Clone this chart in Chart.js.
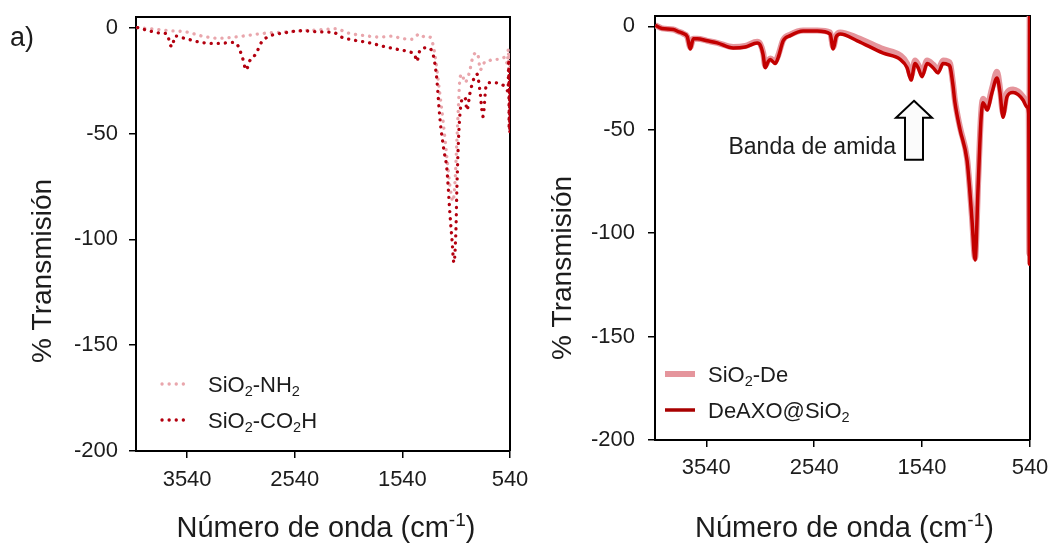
<!DOCTYPE html>
<html>
<head>
<meta charset="utf-8">
<script src="https://cdn.jsdelivr.net/npm/chart.js@4.4.0/dist/chart.umd.min.js"></script>
<style>
  html, body { margin: 0; padding: 0; background: #fff; }
  #wrap { position: relative; width: 1052px; height: 545px; overflow: hidden; }
  canvas { position: absolute; top: 0; }
  #left { left: 0; }
  #right { left: 540px; }
</style>
</head>
<body>
<div id="wrap">
  <canvas id="left" width="545" height="545"></canvas>
  <canvas id="right" width="512" height="545"></canvas>
</div>
<script>
// ---- Panel a) left: functionalised silica (dotted spectra) ----
const nh2Wn = [4000, 3900, 3800, 3700, 3555, 3400, 3250, 3100, 2950, 2785, 2600, 2470, 2300, 2160, 2050, 1860, 1750, 1630, 1560, 1450, 1380, 1330, 1285, 1240, 1200, 1160, 1125, 1095, 1070, 1050, 1035, 1020, 1005, 985, 960, 935, 912, 891, 860, 847, 830, 819, 800, 770, 753, 697, 632, 585, 565, 555, 550, 545, 542, 540];
const nh2T  = [0, -0.5, -1, -1.5, -2, -4, -5, -4.5, -3.5, -2.5, -2, -1.5, -1, -0.5, -2.5, -4, -4.5, -4, -5, -5.5, -3, -4.5, -4.5, -12, -28, -45, -62, -76, -82, -72, -55, -38, -24, -22, -26, -24, -20, -15, -12, -12, -15, -20, -19, -16, -16, -15, -15, -14, -17, -10, -28, -12, -20, -18];

const co2hWn = [4000, 3894, 3801, 3726, 3698, 3680, 3652, 3568, 3410, 3260, 3102, 3074, 3027, 2990, 2962, 2934, 2897, 2850, 2794, 2636, 2478, 2310, 2170, 2105, 1984, 1862, 1704, 1564, 1471, 1424, 1406, 1378, 1313, 1266, 1238, 1219, 1191, 1154, 1126, 1098, 1079, 1061, 1042, 1033, 1014, 986, 958, 940, 912, 875, 847, 819, 791, 763, 726, 632, 586, 558, 552, 548, 545, 542, 540];
const co2hT  = [0, -1.5, -2.5, -3, -8, -9, -4, -5, -7, -7.5, -7, -8, -14, -20, -16, -14.5, -12, -7, -4.5, -2.5, -1.5, -2, -2.5, -4.5, -6, -7, -9, -10.5, -11.5, -13, -16, -11, -9.5, -11, -17, -25, -43, -58, -67, -88, -100, -111, -95, -75, -48, -34, -33, -39, -31, -24, -22, -30, -42, -28, -26, -26.5, -28, -30, -15, -48, -20, -50, -30];

// ---- Right panel: decorated silica and loaded material (solid spectra) ----
const deWn = [4012, 3950, 3845, 3800, 3753, 3716, 3688, 3660, 3623, 3530, 3438, 3290, 3179, 3068, 3040, 3012, 2994, 2966, 2947, 2901, 2873, 2827, 2762, 2642, 2512, 2392, 2364, 2336, 2299, 2141, 1900, 1743, 1679, 1642, 1605, 1577, 1540, 1494, 1438, 1392, 1346, 1300, 1281, 1255, 1235, 1188, 1123, 1100, 1077, 1049, 1021, 994, 975, 960, 938, 892, 846, 818, 790, 753, 697, 650, 605, 568, 552, 546, 543, 541, 540];
const deT  = [0.5, -1, -1.5, -2.5, -3.5, -5, -10, -6, -6, -7, -8, -10, -9.5, -7.5, -8.5, -13, -19, -16.5, -15.5, -17, -14, -6.5, -4, -2, -2, -3, -10, -4.5, -3, -5.5, -11, -14, -18, -24, -16.5, -18.5, -22.5, -16.5, -18.5, -21, -16.5, -17, -18, -27, -36, -49, -64, -77, -93, -112, -76, -43, -35, -36, -38.5, -30, -22, -30, -42, -32, -30.5, -31.5, -34, -37, -40, -110, 5, -60, -48];

const axoWn = [4012, 3950, 3845, 3800, 3753, 3716, 3688, 3660, 3623, 3530, 3438, 3290, 3179, 3068, 3040, 3012, 2994, 2966, 2947, 2901, 2873, 2827, 2762, 2642, 2512, 2392, 2364, 2336, 2299, 2141, 1900, 1743, 1679, 1642, 1605, 1577, 1540, 1494, 1438, 1392, 1346, 1300, 1281, 1255, 1235, 1188, 1123, 1100, 1077, 1049, 1021, 994, 975, 960, 938, 892, 846, 818, 790, 753, 697, 650, 605, 568, 552, 546, 543, 541, 540];
const axoT  = [0.5, -1, -1.5, -2.5, -3.5, -5, -11, -6, -6, -7, -8, -10.5, -10, -8, -9, -14, -20, -17, -16, -18, -15, -7, -4.5, -2.3, -2.3, -3.7, -11, -5, -3.7, -7, -13, -16, -20, -26, -18, -20, -24.4, -18, -20, -22.5, -18, -18.5, -19.5, -28, -37, -50, -65, -78, -94, -113, -78, -45, -37, -38, -40.5, -32, -25, -32, -44, -34, -32, -33, -35.6, -39, -42, -115, 5, -60, -50];

const xTickValues = [3540, 2540, 1540, 540];
const yTickValues = [-200, -150, -100, -50, 0];

const leftLabels  = ['SiO_{2}-NH_{2}', 'SiO_{2}-CO_{2}H'];
const rightLabels = ['SiO_{2}-De', 'DeAXO@SiO_{2}'];
const xTitle = 'Número de onda (cm^{-1})';
const yTitle = '% Transmisión';
const panelTag = 'a)';
const bandNote = 'Banda de amida';
const bandTip = { x: 1615, y: -36 };

const FONT = "'Liberation Sans', Arial, Helvetica, sans-serif";
const INK = '#1c1c1c';
const PINK_DOT = '#E9A6AC';
const RED_DOT = '#B3000F';
const PINK_LINE = '#E5959C';
const RED_LINE = '#C20000';

function toXY(xs, ys) { return xs.map((x, i) => ({ x: x, y: ys[i] })); }

// "_{..}" = subscript, "^{..}" = superscript
function parseRich(str) {
  const segs = []; const re = /([_^])\{([^}]*)\}/g; let last = 0, m;
  while ((m = re.exec(str))) {
    if (m.index > last) segs.push({ t: str.slice(last, m.index), k: 0 });
    segs.push({ t: m[2], k: m[1] === '_' ? -1 : 1 });
    last = re.lastIndex;
  }
  if (last < str.length) segs.push({ t: str.slice(last), k: 0 });
  return segs;
}
function drawRich(ctx, str, x, y, size, align) {
  const segs = parseRich(str);
  const small = size * 0.66;
  let w = 0;
  segs.forEach(s => { ctx.font = (s.k ? small : size) + 'px ' + FONT; s.w = ctx.measureText(s.t).width; w += s.w; });
  let cx = align === 'center' ? x - w / 2 : (align === 'right' ? x - w : x);
  ctx.textAlign = 'left'; ctx.textBaseline = 'alphabetic'; ctx.fillStyle = INK;
  segs.forEach(s => {
    ctx.font = (s.k ? small : size) + 'px ' + FONT;
    const dy = s.k < 0 ? size * 0.2 : (s.k > 0 ? -size * 0.38 : 0);
    ctx.fillText(s.t, cx, y + dy);
    cx += s.w;
  });
}

// frame, titles, legend and notes for each panel
const decor = {
  id: 'decor',
  beforeDatasetsDraw(chart, args, o) {
    const { ctx, chartArea: a } = chart;
    ctx.save();
    ctx.strokeStyle = '#000'; ctx.lineWidth = 2;
    ctx.beginPath();
    ctx.moveTo(a.left, a.top); ctx.lineTo(a.right, a.top); ctx.lineTo(a.right, a.bottom);
    ctx.stroke();
    ctx.restore();
  },
  afterDraw(chart, args, o) {
    const { ctx, chartArea: a } = chart;
    ctx.save();
    // axis titles
    drawRich(ctx, xTitle, (a.left + a.right) / 2 + o.xTitleShift, o.xTitleBase, 29, 'center');
    ctx.save();
    ctx.translate(o.yTitleX, o.yTitleY);
    ctx.rotate(-Math.PI / 2);
    ctx.font = '28px ' + FONT; ctx.fillStyle = INK;
    ctx.textAlign = 'center'; ctx.textBaseline = 'middle';
    ctx.fillText(yTitle, 0, 0);
    ctx.restore();
    // legend
    chart.data.datasets.forEach((ds, i) => {
      const y = o.legendY + i * o.legendGap;
      ctx.save();
      ctx.strokeStyle = o.legendColors ? o.legendColors[i] : ds.borderColor;
      ctx.lineWidth = ds.borderWidth;
      ctx.lineCap = ds.borderCapStyle || 'butt';
      ctx.setLineDash(ds.borderDash || []);
      ctx.beginPath(); ctx.moveTo(o.legendX, y); ctx.lineTo(o.legendX + o.sampleLen, y); ctx.stroke();
      ctx.restore();
      drawRich(ctx, ds.label, o.legendX + o.sampleLen + o.textGap, y + 8, 22, 'left');
    });
    if (o.tag) {
      ctx.font = '27px ' + FONT; ctx.fillStyle = INK;
      ctx.textAlign = 'left'; ctx.textBaseline = 'alphabetic';
      ctx.fillText(o.tag, 10, 46);
    }
    if (o.note) {
      const tx = chart.scales.x.getPixelForValue(o.note.x);
      const ty = chart.scales.y.getPixelForValue(o.note.y);
      ctx.beginPath();
      ctx.moveTo(tx, ty);
      ctx.lineTo(tx + 18, ty + 17); ctx.lineTo(tx + 9, ty + 17); ctx.lineTo(tx + 9, ty + 59);
      ctx.lineTo(tx - 9, ty + 59); ctx.lineTo(tx - 9, ty + 17); ctx.lineTo(tx - 18, ty + 17);
      ctx.closePath();
      ctx.fillStyle = '#fbfbfb'; ctx.fill();
      ctx.strokeStyle = '#000'; ctx.lineWidth = 2; ctx.lineJoin = 'miter'; ctx.stroke();
      ctx.font = '23px ' + FONT; ctx.fillStyle = INK;
      ctx.textAlign = 'right'; ctx.textBaseline = 'alphabetic';
      ctx.fillText(o.note.text, tx - 18, ty + 53);
    }
    ctx.restore();
  }
};

function makePanel(canvasId, datasets, geo, decorOpts) {
  const H = 545;
  return new Chart(document.getElementById(canvasId), {
    type: 'scatter',
    data: { datasets: datasets },
    plugins: [decor],
    options: {
      responsive: false,
      animation: false,
      events: [],
      layout: { padding: { left: 0, top: geo.top, right: geo.width - geo.right, bottom: 0 } },
      plugins: { legend: { display: false }, tooltip: { enabled: false }, decor: decorOpts },
      elements: { point: { radius: 0 } },
      scales: {
        x: {
          type: 'linear', reverse: true, min: 540, max: 4015,
          afterBuildTicks: s => { s.ticks = xTickValues.map(v => ({ value: v })); },
          afterFit: s => { s.height = H - geo.bottom; s.paddingLeft = 0; s.paddingRight = 0; },
          ticks: { font: { family: FONT, size: 22 }, color: INK, padding: geo.xPad, maxRotation: 0, autoSkip: false, callback: v => String(v) },
          grid: { drawOnChartArea: false, drawTicks: true, tickLength: 7, color: '#000', lineWidth: 1.5 },
          border: { display: true, color: '#000', width: 2 }
        },
        y: {
          type: 'linear', min: -200, max: 5,
          afterBuildTicks: s => { s.ticks = yTickValues.map(v => ({ value: v })); },
          afterFit: s => { s.width = geo.left; s.paddingTop = 0; s.paddingBottom = 0; },
          ticks: { font: { family: FONT, size: 22 }, color: INK, padding: geo.yPad, callback: v => String(v) },
          grid: { drawOnChartArea: false, drawTicks: true, tickLength: 7, color: '#000', lineWidth: 1.5 },
          border: { display: true, color: '#000', width: 2 }
        }
      }
    }
  });
}

const dotted = { borderWidth: 3.3, borderDash: [0.1, 7], borderCapStyle: 'round', showLine: true, pointRadius: 0, cubicInterpolationMode: 'monotone' };
const solidBase = { showLine: true, pointRadius: 0, cubicInterpolationMode: 'monotone', borderCapStyle: 'butt', borderJoinStyle: 'round' };

makePanel('left', [
  Object.assign({ label: leftLabels[0], data: toXY(nh2Wn, nh2T), borderColor: PINK_DOT, order: 2 }, dotted),
  Object.assign({ label: leftLabels[1], data: toXY(co2hWn, co2hT), borderColor: RED_DOT, order: 1 }, dotted)
], { width: 545, left: 136, right: 510, top: 17, bottom: 451, xPad: 9, yPad: 11 },
{ xTitleShift: 3, xTitleBase: 537, yTitleX: 43, yTitleY: 271, legendX: 162, legendY: 384, legendGap: 36, sampleLen: 28, textGap: 18, tag: panelTag });

makePanel('right', [
  Object.assign({ label: rightLabels[0], data: toXY(deWn, deT), borderColor: PINK_LINE, borderWidth: 6, order: 2 }, solidBase),
  Object.assign({ label: rightLabels[1], data: toXY(axoWn, axoT), borderColor: RED_LINE, borderWidth: 3.5, order: 1 }, solidBase)
], { width: 512, left: 115, right: 490, top: 16, bottom: 440, xPad: 8, yPad: 13 },
{ xTitleShift: 2, xTitleBase: 537, yTitleX: 23, yTitleY: 268, legendX: 125, legendY: 374, legendGap: 36, sampleLen: 30, textGap: 13,
  legendColors: [PINK_LINE, '#A80000'],
  note: { x: bandTip.x, y: bandTip.y, text: bandNote } });
</script>
</body>
</html>
